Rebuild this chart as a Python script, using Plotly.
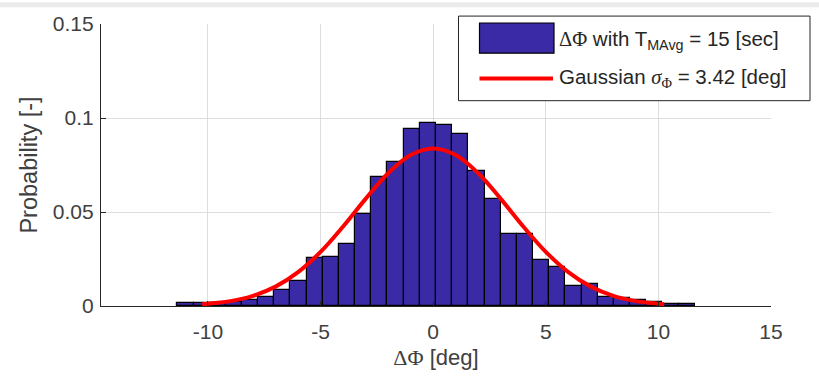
import plotly.graph_objects as go

# ---- data ----
bin_centers = [-11.00, -10.28, -9.57, -8.85, -8.13, -7.41, -6.70, -5.98,
               -5.26, -4.54, -3.82, -3.10, -2.39, -1.67, -0.95, -0.23,
               0.49, 1.20, 1.92, 2.64, 3.36, 4.08, 4.79, 5.51,
               6.23, 6.95, 7.67, 8.38, 9.10, 9.82, 10.54, 11.26]
bin_width = 0.718
probability = [0.0017, 0.0017, 0.0015, 0.0022, 0.0031, 0.0047, 0.0087, 0.0135,
               0.0254, 0.0263, 0.0332, 0.0488, 0.0686, 0.0765, 0.0940, 0.0972,
               0.0961, 0.0914, 0.0717, 0.0569, 0.0381, 0.0381, 0.0245, 0.0208,
               0.0108, 0.0117, 0.0047, 0.0045, 0.0030, 0.0020, 0.0012, 0.0011]

gauss_x = [-10.26, -10, -9, -8, -7, -6, -5, -4, -3, -2, -1, 0,
           1, 2, 3, 4, 5, 6, 7, 8, 9, 10, 10.26]
gauss_y = [0.0009, 0.0012, 0.0026, 0.0054, 0.0103, 0.0180, 0.0288, 0.0423, 0.0570,
           0.0706, 0.0803, 0.0838, 0.0803, 0.0706, 0.0570, 0.0423, 0.0288,
           0.0180, 0.0103, 0.0054, 0.0026, 0.0012, 0.0009]

x_ticks = [-10, -5, 0, 5, 10, 15]
x_tick_text = ["-10", "-5", "0", "5", "10", "15"]
y_ticks = [0, 0.05, 0.1, 0.15]
y_tick_text = ["0", "0.05", "0.1", "0.15"]

BAR_COLOR = "#3b2aa5"
FONT = "Liberation Sans, Arial, sans-serif"
SERIF = "Liberation Serif"
TXT = "#404040"

fig = go.Figure()
fig.add_trace(go.Bar(
    x=bin_centers, y=probability, width=bin_width,
    marker=dict(color=BAR_COLOR, line=dict(color="black", width=1.2)),
    showlegend=False, hoverinfo="x+y"))
fig.add_trace(go.Scatter(
    x=gauss_x, y=gauss_y, mode="lines",
    line=dict(color="#ff0000", width=4, shape="spline", smoothing=1.0),
    showlegend=False))

# plot area geometry (px) used to place the legend box in paper coordinates
L, R, T, B = 101, 48, 22, 71
W, H = 819, 378
pw, ph = W - L - R, H - T - B


def px(xp):
    return (xp - L) / pw


def py(yp):
    return (H - B - yp) / ph


shapes = [
    # window strip at very top
    dict(type="rect", xref="paper", yref="paper", x0=px(0), x1=px(W),
         y0=py(5), y1=py(0), fillcolor="#ebebeb", line=dict(width=0), layer="above"),
    # legend box
    dict(type="rect", xref="paper", yref="paper", x0=px(458.5), x1=px(810),
         y0=py(99.5), y1=py(14), fillcolor="white",
         line=dict(color="#262626", width=1), layer="above"),
    # bar swatch
    dict(type="rect", xref="paper", yref="paper", x0=px(479.5), x1=px(554),
         y0=py(51.5), y1=py(21), fillcolor=BAR_COLOR,
         line=dict(color="black", width=1.2), layer="above"),
    # line swatch
    dict(type="line", xref="paper", yref="paper", x0=px(479.5), x1=px(553),
         y0=py(77), y1=py(77), line=dict(color="#ff0000", width=4), layer="above"),
]

annotations = [
    dict(xref="paper", yref="paper", x=px(557), y=py(38), xanchor="left", yanchor="middle",
         showarrow=False, font=dict(family=FONT, size=20.5, color="#262626"),
         text=f"<span style='font-family:{SERIF}'>ΔΦ</span> with T<sub>MAvg</sub> = 15 [sec]"),
    dict(xref="paper", yref="paper", x=px(557), y=py(77), xanchor="left", yanchor="middle",
         showarrow=False, font=dict(family=FONT, size=20.5, color="#262626"),
         text=f"Gaussian <span style='font-family:{SERIF}'><i>σ</i></span><sub><span style='font-family:{SERIF}'>Φ</span></sub> = 3.42 [deg]"),
]

fig.update_layout(
    width=W, height=H,
    margin=dict(l=L, r=R, t=T, b=B, pad=0),
    paper_bgcolor="white", plot_bgcolor="white",
    bargap=0, barmode="overlay",
    font=dict(family=FONT, size=21, color=TXT),
    shapes=shapes, annotations=annotations,
    xaxis=dict(range=[-14.75, 15], tickvals=x_ticks, ticktext=x_tick_text,
               ticks="inside", ticklen=5, ticklabelstandoff=7,
               tickcolor="#262626", showline=True, linecolor="#262626", linewidth=1.2,
               mirror=False, showgrid=True, gridcolor="#dedede", gridwidth=1,
               zeroline=False, tickfont=dict(size=21, color=TXT),
               title=dict(text=f"<span style='font-family:{SERIF}'>ΔΦ</span> [deg]",
                          font=dict(size=22, color=TXT), standoff=7)),
    yaxis=dict(range=[0, 0.15], tickvals=y_ticks, ticktext=y_tick_text, ticks="inside",
               ticklen=5, ticklabelstandoff=2, tickcolor="#262626", showline=True,
               linecolor="#262626", linewidth=1.2, mirror=False, showgrid=True,
               gridcolor="#dedede", gridwidth=1, zeroline=False,
               tickfont=dict(size=21, color=TXT),
               title=dict(text="Probability [-]", font=dict(size=23.5, color=TXT), standoff=8)),
)

fig.write_html("out.html", config={"displayModeBar": False},
               post_script="document.body.style.margin='0px';")
